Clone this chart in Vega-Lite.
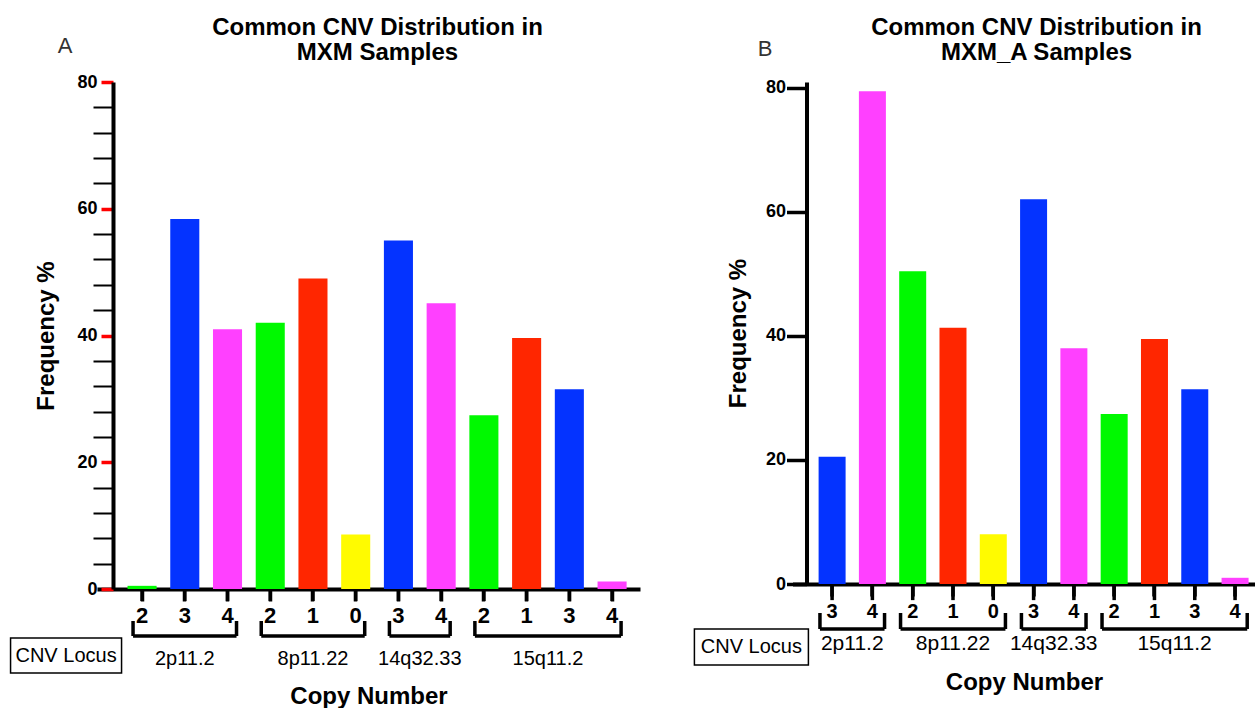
{
  "$schema": "https://vega.github.io/schema/vega-lite/v6.json",
  "padding": {"left": 7, "top": 15, "right": 0, "bottom": 0},
  "spacing": 50.5,
  "config": {
    "font": "Liberation Sans",
    "view": {"stroke": null},
    "axis": {"grid": false, "ticks": true, "tickOpacity": 1, "domainColor": "black", "labelColor": "black", "titleColor": "black", "labelFont": "Liberation Sans", "titleFont": "Liberation Sans"}
  },
  "datasets": {
    "a": [
      {"locus": "2p11.2", "cn": "2", "key": "2p11.2|2", "freq": 0.5},
      {"locus": "2p11.2", "cn": "3", "key": "2p11.2|3", "freq": 58.4},
      {"locus": "2p11.2", "cn": "4", "key": "2p11.2|4", "freq": 41.0},
      {"locus": "8p11.22", "cn": "2", "key": "8p11.22|2", "freq": 42.0},
      {"locus": "8p11.22", "cn": "1", "key": "8p11.22|1", "freq": 49.0},
      {"locus": "8p11.22", "cn": "0", "key": "8p11.22|0", "freq": 8.6},
      {"locus": "14q32.33", "cn": "3", "key": "14q32.33|3", "freq": 55.0},
      {"locus": "14q32.33", "cn": "4", "key": "14q32.33|4", "freq": 45.1},
      {"locus": "15q11.2", "cn": "2", "key": "15q11.2|2", "freq": 27.4},
      {"locus": "15q11.2", "cn": "1", "key": "15q11.2|1", "freq": 39.6},
      {"locus": "15q11.2", "cn": "3", "key": "15q11.2|3", "freq": 31.5},
      {"locus": "15q11.2", "cn": "4", "key": "15q11.2|4", "freq": 1.2}
    ],
    "b": [
      {"locus": "2p11.2", "cn": "3", "key": "2p11.2|3", "freq": 20.5},
      {"locus": "2p11.2", "cn": "4", "key": "2p11.2|4", "freq": 79.4},
      {"locus": "8p11.22", "cn": "2", "key": "8p11.22|2", "freq": 50.4},
      {"locus": "8p11.22", "cn": "1", "key": "8p11.22|1", "freq": 41.3},
      {"locus": "8p11.22", "cn": "0", "key": "8p11.22|0", "freq": 8.0},
      {"locus": "14q32.33", "cn": "3", "key": "14q32.33|3", "freq": 62.0},
      {"locus": "14q32.33", "cn": "4", "key": "14q32.33|4", "freq": 38.0},
      {"locus": "15q11.2", "cn": "2", "key": "15q11.2|2", "freq": 27.4},
      {"locus": "15q11.2", "cn": "1", "key": "15q11.2|1", "freq": 39.5},
      {"locus": "15q11.2", "cn": "3", "key": "15q11.2|3", "freq": 31.4},
      {"locus": "15q11.2", "cn": "4", "key": "15q11.2|4", "freq": 1.0}
    ],
    "locA": [
      {"locus": "2p11.2", "start": "2p11.2|2", "end": "2p11.2|4", "mid": "2p11.2|3", "even": false},
      {"locus": "8p11.22", "start": "8p11.22|2", "end": "8p11.22|0", "mid": "8p11.22|1", "even": false},
      {"locus": "14q32.33", "start": "14q32.33|3", "end": "14q32.33|4", "mid": "14q32.33|3", "even": true},
      {"locus": "15q11.2", "start": "15q11.2|2", "end": "15q11.2|4", "mid": "15q11.2|1", "even": true}
    ],
    "locB": [
      {"locus": "2p11.2", "start": "2p11.2|3", "end": "2p11.2|4", "mid": "2p11.2|3", "even": true},
      {"locus": "8p11.22", "start": "8p11.22|2", "end": "8p11.22|0", "mid": "8p11.22|1", "even": false},
      {"locus": "14q32.33", "start": "14q32.33|3", "end": "14q32.33|4", "mid": "14q32.33|3", "even": true},
      {"locus": "15q11.2", "start": "15q11.2|2", "end": "15q11.2|4", "mid": "15q11.2|1", "even": true}
    ],
    "annA": [{"panel": "A", "box": "CNV Locus", "first": "2p11.2|2"}],
    "annB": [{"panel": "B", "box": "CNV Locus", "first": "2p11.2|3"}]
  },
  "hconcat": [
    {
      "width": 543,
      "height": 507,
      "resolve": {"axis": {"y": "independent"}},
      "title": {"text": ["Common CNV Distribution in", "MXM Samples"], "fontSize": 24, "fontWeight": "bold", "lineHeight": 25, "frame": "group", "anchor": "middle", "baseline": "bottom", "offset": -54, "dx": 9, "color": "black"},
      "layer": [
        {
          "data": {"name": "a"},
          "mark": {"type": "bar", "clip": false},
          "encoding": {
            "x": {"field": "key", "type": "nominal", "sort": null,
              "scale": {"domain": ["2p11.2|2","2p11.2|3","2p11.2|4","8p11.22|2","8p11.22|1","8p11.22|0","14q32.33|3","14q32.33|4","15q11.2|2","15q11.2|1","15q11.2|3","15q11.2|4"], "paddingInner": 0.32, "paddingOuter": 0.514, "align": 0.695},
              "axis": {"title": "Copy Number", "titleFontSize": 24, "titleFontWeight": "bold", "titlePadding": 58, "labelExpr": "split(datum.label, '|')[1]", "labelAngle": 0, "labelFontSize": 22, "labelFontWeight": "bold", "labelPadding": 4, "ticks": true, "tickColor": "black", "tickSize": 12, "tickWidth": 3.5, "domainWidth": 4}},
            "y": {"field": "freq", "type": "quantitative",
              "scale": {"domain": [0, 80], "nice": false},
              "axis": {"orient": "left", "title": "Frequency %", "titleFontSize": 24, "titleFontWeight": "bold", "titlePadding": 18, "values": [0, 20, 40, 60, 80], "labelOverlap": false, "labelFontSize": 18, "labelFontWeight": "bold", "labelPadding": 4, "ticks": true, "tickColor": "red", "tickSize": 12, "tickWidth": 3.5, "domainWidth": 4, "offset": -16}},
            "color": {"field": "cn", "type": "nominal", "scale": {"domain": ["0","1","2","3","4"], "range": ["#FFFB00","#FF2600","#00F900","#0433FF","#FF40FF"]}, "legend": null}
          }
        },
        {
          "data": {"name": "a"},
          "mark": {"type": "bar", "width": 3.5, "color": "black", "clip": false},
          "encoding": {
            "x": {"field": "key", "type": "nominal", "title": "Copy Number"},
            "y": {"datum": 0, "axis": null},
            "y2": {"datum": -1.89}
          }
        },
        {
          "data": {"name": "locA"},
          "mark": {"type": "rule", "color": "black", "strokeWidth": 3.5, "clip": false},
          "encoding": {
            "x": {"field": "start", "type": "nominal", "bandPosition": 0.19, "title": "Copy Number"},
            "x2": {"field": "end", "bandPosition": 0.81},
            "y": {"datum": -7.42, "axis": null}
          }
        },
        {
          "data": {"name": "locA"},
          "mark": {"type": "rule", "color": "black", "strokeWidth": 3.5, "clip": false},
          "encoding": {
            "x": {"field": "start", "type": "nominal", "bandPosition": 0.19, "title": "Copy Number"},
            "y": {"datum": -5.05, "axis": null},
            "y2": {"datum": -7.42}
          }
        },
        {
          "data": {"name": "locA"},
          "mark": {"type": "rule", "color": "black", "strokeWidth": 3.5, "clip": false},
          "encoding": {
            "x": {"field": "end", "type": "nominal", "bandPosition": 0.81, "title": "Copy Number"},
            "y": {"datum": -5.05, "axis": null},
            "y2": {"datum": -7.42}
          }
        },
        {
          "data": {"name": "locA"},
          "transform": [{"filter": "!datum.even"}],
          "mark": {"type": "text", "fontSize": 20, "align": "center", "baseline": "middle", "color": "black", "clip": false},
          "encoding": {
            "x": {"field": "mid", "type": "nominal", "bandPosition": 0.5, "title": "Copy Number"},
            "y": {"datum": -11.1, "axis": null},
            "text": {"field": "locus"}
          }
        },
        {
          "data": {"name": "locA"},
          "transform": [{"filter": "datum.even"}],
          "mark": {"type": "text", "fontSize": 20, "align": "center", "baseline": "middle", "color": "black", "clip": false},
          "encoding": {
            "x": {"field": "mid", "type": "nominal", "bandPosition": 1.236, "title": "Copy Number"},
            "y": {"datum": -11.1, "axis": null},
            "text": {"field": "locus"}
          }
        },
        {
          "data": {"name": "annA"},
          "mark": {"type": "text", "fontSize": 20, "align": "center", "baseline": "middle", "color": "black", "dx": -76, "clip": false},
          "encoding": {
            "x": {"field": "first", "type": "nominal", "title": "Copy Number"},
            "y": {"datum": -10.5, "axis": null},
            "text": {"field": "box"}
          }
        },
        {
          "data": {"name": "annA"},
          "mark": {"type": "point", "shape": "M-2.63,-0.35H-0.41V0.35H-2.63Z", "size": 10000, "filled": false, "stroke": "black", "strokeWidth": 1.5, "opacity": 1, "clip": false},
          "encoding": {
            "x": {"field": "first", "type": "nominal", "title": "Copy Number"},
            "y": {"datum": -10.5, "axis": null}
          }
        },
        {
          "data": {"name": "annA"},
          "mark": {"type": "text", "fontSize": 22, "align": "center", "baseline": "middle", "color": "#333333", "dx": -77, "clip": false},
          "encoding": {
            "x": {"field": "first", "type": "nominal", "title": "Copy Number"},
            "y": {"datum": 85.7, "axis": {"orient": "left", "values": [4,8,12,16,24,28,32,36,44,48,52,56,64,68,72,76], "labels": false, "domain": false, "title": null, "ticks": true, "tickColor": "black", "tickSize": 20, "tickWidth": 2, "offset": -16}},
            "text": {"field": "panel"}
          }
        }
      ]
    },
    {
      "width": 463,
      "height": 502,
      "resolve": {"axis": {"y": "independent"}},
      "title": {"text": ["Common CNV Distribution in", "MXM_A Samples"], "fontSize": 24, "fontWeight": "bold", "lineHeight": 25, "frame": "group", "anchor": "middle", "baseline": "bottom", "offset": -51, "dx": 12.5, "color": "black"},
      "layer": [
        {
          "data": {"name": "b"},
          "mark": {"type": "bar", "clip": false},
          "encoding": {
            "x": {"field": "key", "type": "nominal", "sort": null,
              "scale": {"domain": ["2p11.2|3","2p11.2|4","8p11.22|2","8p11.22|1","8p11.22|0","14q32.33|3","14q32.33|4","15q11.2|2","15q11.2|1","15q11.2|3","15q11.2|4"], "paddingInner": 0.33, "paddingOuter": 0.41, "align": 0.79},
              "axis": {"title": "Copy Number", "titleFontSize": 24, "titleFontWeight": "bold", "titlePadding": 48.5, "labelExpr": "split(datum.label, '|')[1]", "labelAngle": 0, "labelFontSize": 20, "labelFontWeight": "bold", "labelPadding": 5.5, "ticks": true, "tickColor": "black", "tickSize": 12, "tickWidth": 3.5, "domainWidth": 4}},
            "y": {"field": "freq", "type": "quantitative",
              "scale": {"domain": [0, 80.9], "nice": false},
              "axis": {"orient": "left", "title": "Frequency %", "titleFontSize": 24, "titleFontWeight": "bold", "titlePadding": 15, "values": [0, 20, 40, 60, 80], "labelOverlap": false, "labelFontSize": 18, "labelFontWeight": "bold", "labelPadding": 1, "ticks": true, "tickColor": "black", "tickSize": 20, "tickWidth": 3.5, "domainWidth": 4, "offset": -14}},
            "color": {"field": "cn", "type": "nominal", "scale": {"domain": ["0","1","2","3","4"], "range": ["#FFFB00","#FF2600","#00F900","#0433FF","#FF40FF"]}, "legend": null}
          }
        },
        {
          "data": {"name": "b"},
          "mark": {"type": "rule", "color": "black", "strokeWidth": 3.5, "clip": false},
          "encoding": {
            "x": {"field": "key", "type": "nominal", "title": "Copy Number"},
            "y": {"datum": 0, "axis": null},
            "y2": {"datum": -2.6}
          }
        },
        {
          "data": {"name": "locB"},
          "mark": {"type": "rule", "color": "black", "strokeWidth": 3.5, "clip": false},
          "encoding": {
            "x": {"field": "start", "type": "nominal", "bandPosition": 0.05, "title": "Copy Number"},
            "x2": {"field": "end", "bandPosition": 0.95},
            "y": {"datum": -7.25, "axis": null}
          }
        },
        {
          "data": {"name": "locB"},
          "mark": {"type": "rule", "color": "black", "strokeWidth": 3.5, "clip": false},
          "encoding": {
            "x": {"field": "start", "type": "nominal", "bandPosition": 0.05, "title": "Copy Number"},
            "y": {"datum": -4.67, "axis": null},
            "y2": {"datum": -7.25}
          }
        },
        {
          "data": {"name": "locB"},
          "mark": {"type": "rule", "color": "black", "strokeWidth": 3.5, "clip": false},
          "encoding": {
            "x": {"field": "end", "type": "nominal", "bandPosition": 0.95, "title": "Copy Number"},
            "y": {"datum": -4.67, "axis": null},
            "y2": {"datum": -7.25}
          }
        },
        {
          "data": {"name": "locB"},
          "transform": [{"filter": "!datum.even"}],
          "mark": {"type": "text", "fontSize": 21, "align": "center", "baseline": "middle", "color": "black", "clip": false},
          "encoding": {
            "x": {"field": "mid", "type": "nominal", "bandPosition": 0.5, "title": "Copy Number"},
            "y": {"datum": -9.67, "axis": null},
            "text": {"field": "locus"}
          }
        },
        {
          "data": {"name": "locB"},
          "transform": [{"filter": "datum.even"}],
          "mark": {"type": "text", "fontSize": 21, "align": "center", "baseline": "middle", "color": "black", "clip": false},
          "encoding": {
            "x": {"field": "mid", "type": "nominal", "bandPosition": 1.246, "title": "Copy Number"},
            "y": {"datum": -9.67, "axis": null},
            "text": {"field": "locus"}
          }
        },
        {
          "data": {"name": "annB"},
          "mark": {"type": "text", "fontSize": 20, "align": "center", "baseline": "middle", "color": "black", "dx": -80.7, "clip": false},
          "encoding": {
            "x": {"field": "first", "type": "nominal", "title": "Copy Number"},
            "y": {"datum": -10.15, "axis": null},
            "text": {"field": "box"}
          }
        },
        {
          "data": {"name": "annB"},
          "mark": {"type": "point", "shape": "M-2.754,-0.36H-0.474V0.36H-2.754Z", "size": 10000, "filled": false, "stroke": "black", "strokeWidth": 1.5, "opacity": 1, "clip": false},
          "encoding": {
            "x": {"field": "first", "type": "nominal", "title": "Copy Number"},
            "y": {"datum": -10.15, "axis": null}
          }
        },
        {
          "data": {"name": "annB"},
          "mark": {"type": "text", "fontSize": 22, "align": "center", "baseline": "middle", "color": "#333333", "dx": -67, "clip": false},
          "encoding": {
            "x": {"field": "first", "type": "nominal", "title": "Copy Number"},
            "y": {"datum": 86.2, "axis": null},
            "text": {"field": "panel"}
          }
        }
      ]
    }
  ]
}
